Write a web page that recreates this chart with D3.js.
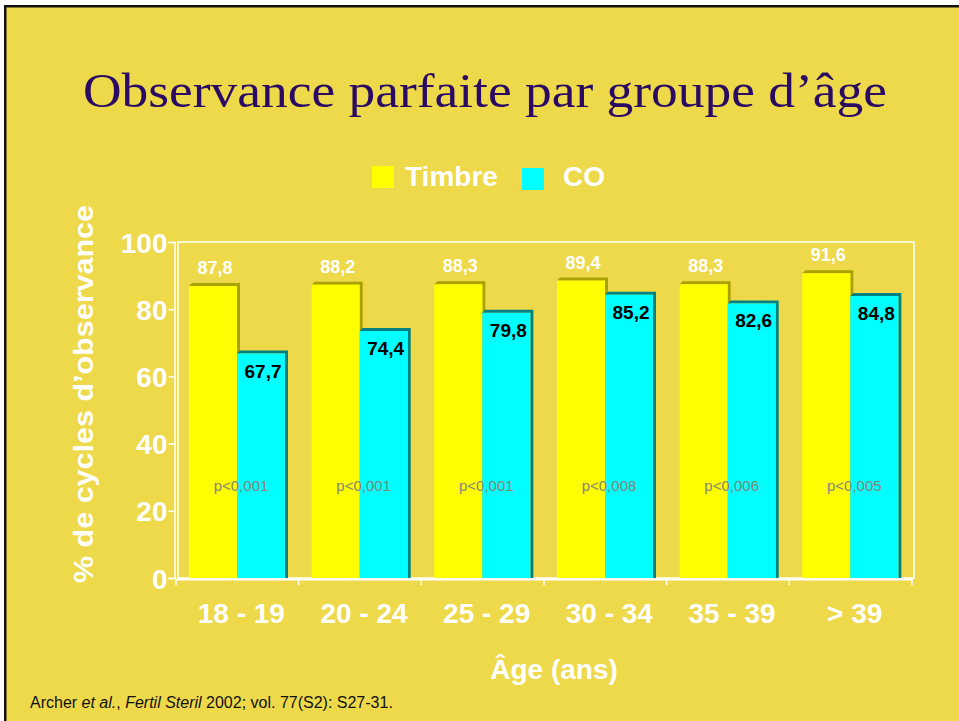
<!DOCTYPE html>
<html>
<head>
<meta charset="utf-8">
<script src="https://cdn.jsdelivr.net/npm/d3@7"></script>
<style>
  html, body { margin: 0; padding: 0; background: #fff; }
  svg { display: block; }
</style>
</head>
<body>
<div id="chart"></div>
<script>
const ageGroups = ["18 - 19", "20 - 24", "25 - 29", "30 - 34", "35 - 39", "> 39"];
const series = ["Timbre", "CO"];
const timbreValues = [87.8, 88.2, 88.3, 89.4, 88.3, 91.6];
const coValues = [67.7, 74.4, 79.8, 85.2, 82.6, 84.8];
const pValues = ["p<0,001", "p<0,001", "p<0,001", "p<0,008", "p<0,006", "p<0,005"];
const yTicks = [0, 20, 40, 60, 80, 100];

const width = 959, height = 721;
const plot = { left: 176, right: 912, top: 242, bottom: 578 };
const depth = 3;
const font = "'Liberation Sans', Arial, sans-serif";

const colors = {
  Timbre: { front: "#FFFF00", side: "#A9A100" },
  CO: { front: "#00FFFF", side: "#008080" },
};

const svg = d3.select("#chart").append("svg")
  .attr("width", width).attr("height", height);

svg.append("rect").attr("width", width).attr("height", height).attr("fill", "#fff");
// slide with black edge on left and top
svg.append("rect").attr("x", 4).attr("y", 5).attr("width", width).attr("height", height).attr("fill", "#111");
svg.append("rect").attr("x", 6.5).attr("y", 7.5).attr("width", width).attr("height", height).attr("fill", "#EED94A");

svg.append("text")
  .attr("x", 485).attr("y", 107)
  .attr("text-anchor", "middle")
  .attr("font-family", "'Liberation Serif', serif")
  .attr("font-size", 48)
  .attr("fill", "#2A0A62")
  .attr("textLength", 804).attr("lengthAdjust", "spacingAndGlyphs")
  .text("Observance parfaite par groupe d’âge");

const x0 = d3.scaleBand().domain(ageGroups).range([plot.left, plot.right]).padding(0);
const x1 = d3.scaleBand().domain(series).range([13, 109]);
const y = d3.scaleLinear().domain([0, 100]).range([plot.bottom, plot.top]);

const rows = ageGroups.map((g, i) => ({ group: g, Timbre: timbreValues[i], CO: coValues[i], p: pValues[i] }));

// plot frame
svg.append("rect")
  .attr("x", plot.left + 2).attr("y", plot.top)
  .attr("width", plot.right - plot.left).attr("height", plot.bottom - plot.top)
  .attr("fill", "none").attr("stroke", "#fff").attr("stroke-width", 1.5);

// bars with a small 3d edge
const bw = x1.bandwidth();
const groups = svg.append("g").selectAll("g").data(rows).join("g")
  .attr("transform", d => `translate(${x0(d.group)},0)`);

series.forEach(s => {
  const gs = groups.append("g");
  gs.append("path")
    .attr("fill", colors[s].side)
    .attr("d", d => {
      const xl = x1(s), xr = xl + bw, yt = y(d[s]) + depth;
      return `M${xl},${yt} L${xl + depth},${yt - depth} L${xr + depth},${yt - depth} L${xr + depth},${plot.bottom} L${xr},${plot.bottom} L${xr},${yt} Z`;
    });
  gs.append("rect")
    .attr("x", x1(s)).attr("y", d => y(d[s]) + depth)
    .attr("width", bw).attr("height", d => plot.bottom - y(d[s]) - depth)
    .attr("fill", colors[s].front);
});

// value labels
groups.append("text")
  .attr("x", x1("Timbre") + bw / 2 + 2)
  .attr("y", d => y(d.Timbre) - 9)
  .attr("text-anchor", "middle")
  .attr("font-family", font)
  .attr("font-weight", "bold").attr("font-size", 18)
  .attr("fill", "#fff")
  .text(d => d3.format(".1f")(d.Timbre).replace(".", ","));

groups.append("text")
  .attr("x", x1("CO") + bw / 2 + 2)
  .attr("y", d => y(d.CO) + 27)
  .attr("text-anchor", "middle")
  .attr("font-family", font)
  .attr("font-weight", "bold").attr("font-size", 19)
  .attr("fill", "#000")
  .text(d => d3.format(".1f")(d.CO).replace(".", ","));

groups.append("text")
  .attr("x", 65)
  .attr("y", 491)
  .attr("text-anchor", "middle")
  .attr("font-family", font)
  .attr("font-size", 15)
  .attr("fill", "#858578")
  .text(d => d.p);

// axes
const yAxis = svg.append("g")
  .attr("transform", `translate(${plot.left - 1.5},0)`)
  .call(d3.axisLeft(y).tickValues(yTicks).tickSize(6).tickPadding(1));
yAxis.select(".domain").attr("stroke", "#fff").attr("stroke-width", 1.5);
yAxis.selectAll(".tick line").attr("stroke", "#fff").attr("stroke-width", 1.5);
yAxis.selectAll(".tick text")
  .attr("fill", "#fff").attr("font-family", font).attr("font-weight", "bold")
  .attr("font-size", 28).attr("dy", "0.36em");

const xAxis = svg.append("g")
  .attr("transform", `translate(0,${plot.bottom + 1})`)
  .call(d3.axisBottom(x0).tickSize(0).tickPadding(24));
xAxis.select(".domain").attr("stroke", "#fff").attr("stroke-width", 2);
xAxis.selectAll(".tick text")
  .attr("fill", "#fff").attr("font-family", font).attr("font-weight", "bold")
  .attr("font-size", 28).attr("dx", 4);
// category boundary ticks
xAxis.selectAll(".bound").data(ageGroups.concat(["end"])).join("line")
  .attr("class", "bound")
  .attr("x1", (d, i) => plot.left + i * x0.step()).attr("x2", (d, i) => plot.left + i * x0.step())
  .attr("y1", 0).attr("y2", 6)
  .attr("stroke", "#fff").attr("stroke-width", 1.5);

// axis titles
svg.append("text")
  .attr("transform", "translate(93,394) rotate(-90)")
  .attr("text-anchor", "middle")
  .attr("font-family", font).attr("font-weight", "bold").attr("font-size", 28)
  .attr("textLength", 378).attr("lengthAdjust", "spacingAndGlyphs")
  .attr("fill", "#fff")
  .text("% de cycles d’observance");

svg.append("text")
  .attr("x", 554).attr("y", 679)
  .attr("text-anchor", "middle")
  .attr("font-family", font).attr("font-weight", "bold").attr("font-size", 28)
  .attr("fill", "#fff")
  .text("Âge (ans)");

// legend
const legendX = [372, 522];
const legend = svg.append("g").selectAll("g").data(series).join("g")
  .attr("transform", (d, i) => `translate(${legendX[i]},${i === 0 ? 166 : 168})`);
legend.append("rect").attr("width", 22).attr("height", 22).attr("fill", d => colors[d].front);
legend.append("text")
  .attr("x", (d, i) => i === 0 ? 33 : 41).attr("y", (d, i) => i === 0 ? 20 : 18)
  .attr("font-family", font).attr("font-weight", "bold").attr("font-size", 28)
  .attr("fill", "#fff")
  .text(d => d);

// source
const src = svg.append("text")
  .attr("x", 30).attr("y", 708)
  .attr("font-family", font).attr("font-size", 16).attr("fill", "#111");
src.append("tspan").text("Archer ");
src.append("tspan").attr("font-style", "italic").text("et al.");
src.append("tspan").text(", ");
src.append("tspan").attr("font-style", "italic").text("Fertil Steril");
src.append("tspan").text(" 2002; vol. 77(S2): S27-31.");
</script>
</body>
</html>
